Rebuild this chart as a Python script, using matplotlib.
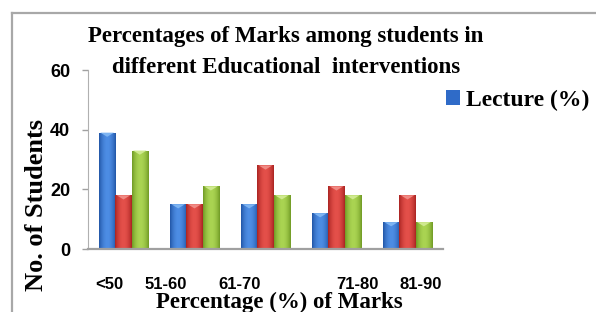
import numpy as np
import matplotlib.pyplot as plt
from matplotlib.lines import Line2D
from matplotlib.patches import Polygon
from matplotlib.colors import LinearSegmentedColormap

# data
categories = ['<50', '51-60', '61-70', '71-80', '81-90']
lecture = [39, 15, 15, 12, 9]
second = [18, 15, 28, 21, 18]
third = [33, 21, 18, 18, 9]
series_names = ['Lecture (%)', 'Series 2', 'Series 3']
y_ticks = [0, 20, 40, 60]

# tick labels are not centred under the groups in the original
label_shift = [-0.20, -0.40, -0.37, 0.30, 0.19]

colors = ['#2f6bc8', '#d1302e', '#93bf3a']
# edge / centre / cap shades for the cylinder look
shades = [('#1d4f9f', '#4d8de4', '#7db4f2'),
          ('#a31f1d', '#e4504a', '#f08a84'),
          ('#6a9420', '#aad452', '#cfe98f')]
serif = 'Liberation Serif'
sans = 'Liberation Sans'

fig = plt.figure(figsize=(5.96, 3.12), dpi=100)
ax = fig.add_axes([88 / 596, 63 / 312, 355 / 596, 179 / 312])

x = np.arange(len(categories))
w = 0.23
profile = np.sin(np.pi * np.linspace(0.02, 0.98, 40)) ** 0.8
profile = profile[np.newaxis, :]
bars = []
for k, vals in enumerate([lecture, second, third]):
    b = ax.bar(x + (k - 1) * w, vals, width=w, color=colors[k], label=series_names[k], zorder=2)
    bars.append(b)
    cmap = LinearSegmentedColormap.from_list('s%d' % k, [shades[k][0], shades[k][1]])
    for rect in b:
        x0 = rect.get_x()
        x1 = x0 + rect.get_width()
        h = rect.get_height()
        im = ax.imshow(profile, extent=[x0, x1, 0, h], aspect='auto', cmap=cmap,
                       vmin=0, vmax=1, zorder=3, interpolation='bilinear')
        im.set_clip_path(rect)
        cap = Polygon([[x0 + 0.02, h], [x1 - 0.02, h], [(x0 + x1) / 2, h - 1.4]],
                      closed=True, facecolor=shades[k][2], edgecolor='none', zorder=4)
        ax.add_patch(cap)

ax.set_xlim(-0.5, len(categories) - 0.5)
ax.set_ylim(0, 60)
ax.set_yticks(y_ticks)
ax.set_yticklabels([str(v) for v in y_ticks], fontfamily=sans, fontweight='bold', fontsize=13)
ax.set_xticks(x + np.array(label_shift))
ax.set_xticklabels(categories, fontfamily=sans, fontweight='bold', fontsize=12)
ax.tick_params(axis='x', length=0, pad=20)
ax.tick_params(axis='y', length=4.3, width=1, color='#a0a0a0', pad=8.6)

for side in ['top', 'right']:
    ax.spines[side].set_visible(False)
ax.spines['left'].set_color('#b0b0b0')
ax.spines['bottom'].set_color('#a0a0a0')
ax.spines['bottom'].set_linewidth(1.6)
ax.spines['bottom'].set_zorder(5)

# titles and axis labels
fig.text(286 / 596, 1 - 42 / 312, 'Percentages of Marks among students in', ha='center', va='baseline',
         fontfamily=serif, fontweight='bold', fontsize=16.5)
fig.text(286 / 596, 1 - 73 / 312, 'different Educational  interventions', ha='center', va='baseline',
         fontfamily=serif, fontweight='bold', fontsize=16.5)
fig.text(279 / 596, 4 / 312, 'Percentage (%) of Marks', ha='center', va='baseline',
         fontfamily=serif, fontweight='bold', fontsize=16.5)
fig.text(37 / 596, 1 - 205 / 312, 'No. of Students', ha='center', va='center', rotation=90,
         fontfamily=serif, fontweight='bold', fontsize=19)

ax.legend(handles=[bars[0]], labels=[series_names[0]], loc='center left',
          bbox_to_anchor=(446 / 596, 1 - 100 / 312), bbox_transform=fig.transFigure,
          frameon=False, handlelength=0.6, handleheight=0.6, handletextpad=0.25,
          borderpad=0, borderaxespad=0, prop={'family': serif, 'weight': 'bold', 'size': 17})

# grey frame around the picture (cut at right and bottom)
fig.add_artist(Line2D([12 / 596, 12 / 596], [-0.1, 1 - 13 / 312], transform=fig.transFigure,
                      color='#a8a8a8', linewidth=1.6))
fig.add_artist(Line2D([12 / 596, 1.1], [1 - 13 / 312, 1 - 13 / 312], transform=fig.transFigure,
                      color='#a8a8a8', linewidth=1.6))

fig.savefig('out.png', dpi=100)
